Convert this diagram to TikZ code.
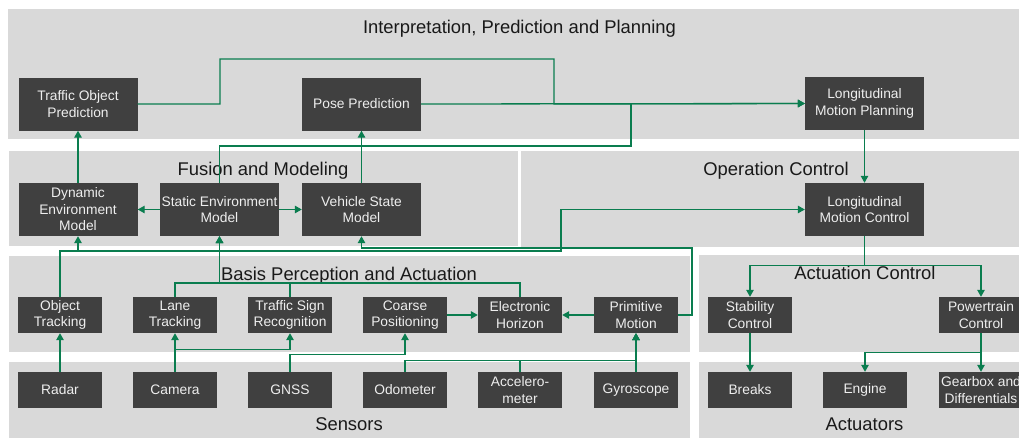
\documentclass[tikz,border=0pt]{standalone}
\usepackage{fontspec}
\setmainfont{Liberation Sans}
\usetikzlibrary{arrows.meta}
\definecolor{panelgray}{HTML}{D9D9D9}
\definecolor{boxgray}{HTML}{404040}
\definecolor{boxtext}{HTML}{EEEEEE}
\definecolor{flowgreen}{HTML}{0A7D4F}
\tikzset{
  panel/.style={fill=panelgray, draw=none},
  ptitle/.style={anchor=base, inner sep=0pt, text=black!90, font=\fontsize{18.4}{22}\selectfont},
  bigbox/.style={fill=boxgray, draw=none, text=boxtext, minimum width=119pt, minimum height=53pt, inner sep=0pt, align=center, font=\fontsize{13.8}{16.5}\selectfont},
  smallbox/.style={fill=boxgray, draw=none, text=boxtext, minimum width=84pt, minimum height=36pt, inner sep=0pt, align=center, font=\fontsize{13.8}{16.5}\selectfont},
  flow/.style={draw=flowgreen, line width=1.3pt},
  arr/.style={flow, -{Triangle[length=7pt,width=7.5pt]}},
}
\begin{document}
\begin{tikzpicture}[x=1pt,y=-1pt]
\useasboundingbox (0,0) rectangle (1019,437);
\fill[white] (0,0) rectangle (1019,437);
% panels
\fill[panel] (8,9) rectangle (1025,139);
\fill[panel] (9,151) rectangle (518,246);
\fill[panel] (521,151) rectangle (1025,247);
\fill[panel] (9,256) rectangle (690,352);
\fill[panel] (699,255) rectangle (1025,352);
\fill[panel] (9,362) rectangle (690,440);
\fill[panel] (699,362) rectangle (1025,440);
% panel titles
\node[ptitle] (t1) at (519.5,33.3) {Interpretation, Prediction and Planning};
\node[ptitle] (t2) at (263,175) {Fusion and Modeling};
\node[ptitle] (t3) at (776,175) {Operation Control};
\node[ptitle] (t4) at (349,280) {Basis Perception and Actuation};
\node[ptitle] (t5) at (865,279.5) {Actuation Control};
\node[ptitle] (t6) at (349,430) {Sensors};
\node[ptitle] (t7) at (864.5,430) {Actuators};
% nodes
\node[bigbox] (top) at (78,104) {Traffic Object\\Prediction};
\node[bigbox] (pp) at (361.5,104) {Pose Prediction};
\node[bigbox] (lmp) at (864.5,103.5) {Longitudinal\\Motion Planning};
\node[bigbox] (dem) at (78,209.5) {Dynamic\\Environment\\Model};
\node[bigbox] (sem) at (219.5,209.5) {Static Environment\\Model};
\node[bigbox] (vsm) at (361.5,209.5) {Vehicle State\\Model};
\node[bigbox] (lmc) at (864.5,209.5) {Longitudinal\\Motion Control};
\node[smallbox] (ot) at (60,315) {Object\\Tracking};
\node[smallbox] (lt) at (175,315) {Lane\\Tracking};
\node[smallbox] (tsr) at (290,315) {Traffic Sign\\Recognition};
\node[smallbox] (cp) at (405,315) {Coarse\\Positioning};
\node[smallbox] (eh) at (520,315) {Electronic\\Horizon};
\node[smallbox] (pm) at (636,315) {Primitive\\Motion};
\node[smallbox] (stab) at (750,315) {Stability\\Control};
\node[smallbox] (pt) at (981,315) {Powertrain\\Control};
\node[smallbox] (radar) at (60,390) {Radar};
\node[smallbox] (cam) at (175,390) {Camera};
\node[smallbox] (gnss) at (290,390) {GNSS};
\node[smallbox] (odo) at (405,390) {Odometer};
\node[smallbox] (acc) at (520,390) {Accelero-\\meter};
\node[smallbox] (gyro) at (636,390) {Gyroscope};
\node[smallbox] (brk) at (750,390) {Breaks};
\node[smallbox] (eng) at (865,390) {Engine};
\node[smallbox] (gear) at (981,390) {Gearbox and\\Differentials};
% junctions
\coordinate (jsem) at (219.5,283);
% connectors: planning
\draw[arr] (top.east) -- (220,104) -- (220,59) -- (554,59) -- (554,104) -- (lmp.west);
\draw[arr] (pp.east) -- (lmp.west);
\draw[arr] (sem.north) |- (631,146) |- (lmp.west);
\draw[arr] (dem.north) -- (top.south);
\draw[arr] (vsm.north) -- (pp.south);
\draw[arr] (sem.west) -- (dem.east);
\draw[arr] (sem.east) -- (vsm.west);
\draw[arr] (lmp.south) -- (lmc.north);
% connectors: perception to fusion
\draw[arr] (ot.north) |- (78,251) -- (dem.south);
\draw[arr] (ot.north) |- (561,251) |- (lmc.west);
\draw[arr] (pm.east) -| (692,248) -| (vsm.south);
\draw[arr] (lt.north) |- (jsem) -- (sem.south);
\draw[arr] (tsr.north) |- (jsem) -- (sem.south);
\draw[arr] (eh.north) |- (jsem) -- (sem.south);
\draw[arr] (cp.east) -- (eh.west);
\draw[arr] (pm.west) -- (eh.east);
% connectors: sensors
\draw[arr] (radar.north) -- (ot.south);
\draw[arr] (cam.north) -- (lt.south);
\draw[arr] (cam.north) -- ++(0,-22) -| (tsr.south);
\draw[arr] (gnss.north) -- ++(0,-17) -| (cp.south);
\draw[arr] (odo.north) -- ++(0,-11) -| (pm.south);
\draw[arr] (acc.north) -- ++(0,-11) -| (pm.south);
\draw[arr] (gyro.north) -- (pm.south);
% connectors: actuation
\draw[arr] (lmc.south) -- ++(0,29) -| (stab.north);
\draw[arr] (lmc.south) -- ++(0,29) -| (pt.north);
\draw[arr] (stab.south) -- (brk.north);
\draw[arr] (pt.south) -- ++(0,19) -| (eng.north);
\draw[arr] (pt.south) -- (gear.north);
\end{tikzpicture}
\end{document}
